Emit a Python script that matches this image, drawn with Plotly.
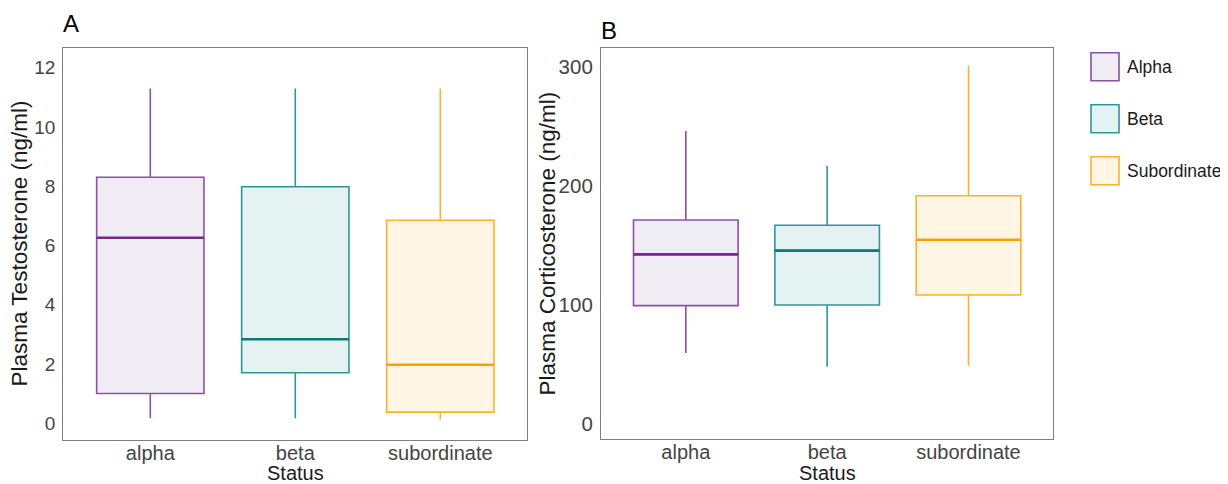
import plotly.graph_objects as go

# ---------------- data ----------------
categories = ["alpha", "beta", "subordinate"]
legend_labels = ["Alpha", "Beta", "Subordinate"]

# Panel A: Plasma Testosterone (ng/ml)
t_low = [0.17, 0.17, 0.13]
t_q1 = [1.01, 1.71, 0.38]
t_med = [6.26, 2.84, 1.98]
t_q3 = [8.30, 7.98, 6.85]
t_high = [11.29, 11.29, 11.29]

# Panel B: Plasma Corticosterone (ng/ml)
c_low = [59.8, 48.4, 49.2]
c_q1 = [99.6, 100.2, 108.6]
c_med = [142.7, 145.8, 155.0]
c_q3 = [171.5, 167.1, 191.9]
c_high = [246.3, 217.1, 301.1]

t_ticks = [0, 2, 4, 6, 8, 10, 12]
c_ticks = [0, 100, 200, 300]

# ---------------- style ----------------
line_colors = ["#8E4FA5", "#2E9699", "#FFB02E"]
median_colors = ["#762A88", "#0B7A7A", "#FFA000"]
fill_colors = ["#F0ECF4", "#E4F3F2", "#FFF6E5"]
FONT = "Liberation Sans, Arial, sans-serif"
BOX_W = 0.74

# page body has an 8px margin; figure is laid out in page pixels
OFF = 8
W, H = 1228 - OFF, 484 - OFF


def px(x):
    return (x - OFF) / W


def py(y):
    return 1 - (y - OFF) / H


fig = go.Figure()

panels = [
    ("x", "y", t_low, t_q1, t_med, t_q3, t_high),
    ("x2", "y2", c_low, c_q1, c_med, c_q3, c_high),
]

for xa, ya, lo, q1, med, q3, hi in panels:
    for i, cat in enumerate(categories):
        fig.add_trace(go.Box(
            x=[i], q1=[q1[i]], median=[med[i]], q3=[q3[i]],
            lowerfence=[lo[i]], upperfence=[hi[i]],
            width=BOX_W, whiskerwidth=0,
            fillcolor=fill_colors[i],
            line=dict(color=line_colors[i], width=1.6),
            boxpoints=False, name=legend_labels[i], showlegend=False,
            xaxis=xa, yaxis=ya, hoverinfo="skip",
        ))
        # thicker, darker median line
        fig.add_trace(go.Scatter(
            x=[i - BOX_W / 2, i + BOX_W / 2], y=[med[i], med[i]],
            mode="lines", line=dict(color=median_colors[i], width=2.6),
            showlegend=False, xaxis=xa, yaxis=ya, hoverinfo="skip",
        ))

ax_common = dict(
    showline=True, linecolor="#7F7F7F", linewidth=1.2, mirror=True,
    showgrid=False, zeroline=False, ticks="", automargin=False,
)
xtick = dict(family=FONT, size=20, color="#444444")

fig.update_layout(
    width=W, height=H,
    margin=dict(l=0, r=0, t=0, b=0),
    paper_bgcolor="white", plot_bgcolor="white",
    showlegend=False,
    xaxis=dict(domain=[px(63.3), px(527.3)], range=[-0.6, 2.6],
               tickvals=[0, 1, 2], ticktext=categories, tickfont=xtick,
               ticklabelstandoff=-5, **ax_common),
    yaxis=dict(domain=[py(440.3), py(47.7)], range=[-0.57, 12.67],
               tickvals=t_ticks, ticklabelstandoff=3,
               tickfont=dict(family=FONT, size=19, color="#444444"), **ax_common),
    xaxis2=dict(domain=[px(601), px(1053.3)], range=[-0.6, 2.6], anchor="y2",
                tickvals=[0, 1, 2], ticktext=categories, tickfont=xtick,
                ticklabelstandoff=-5, **ax_common),
    yaxis2=dict(domain=[py(439.3), py(47.7)], range=[-12.6, 316.2],
                anchor="x2", tickvals=c_ticks, ticklabelstandoff=3,
                tickfont=dict(family=FONT, size=20.5, color="#444444"), **ax_common),
)

title_font = dict(family=FONT, size=22.5, color="#1A1A1A")
# axis titles
fig.add_annotation(text="Plasma Testosterone (ng/ml)", textangle=-90,
                   xref="paper", yref="paper", x=px(19), y=py(243.5),
                   xanchor="center", yanchor="middle", showarrow=False, font=title_font)
fig.add_annotation(text="Plasma Corticosterone (ng/ml)", textangle=-90,
                   xref="paper", yref="paper", x=px(547), y=py(243.5),
                   xanchor="center", yanchor="middle", showarrow=False, font=title_font)
for x0, x1 in [(63.3, 527.3), (601, 1053.3)]:
    fig.add_annotation(text="Status", xref="paper", yref="paper",
                       x=px((x0 + x1) / 2), y=py(473.3),
                       xanchor="center", yanchor="middle", showarrow=False,
                       borderpad=0,
                       font=dict(family=FONT, size=20, color="#1A1A1A"))

# panel letters
fig.add_annotation(text="A", xref="paper", yref="paper", x=px(62), y=py(23),
                   xanchor="left", yanchor="middle", showarrow=False, borderpad=0,
                   font=dict(family=FONT, size=24, color="#000000"))
fig.add_annotation(text="B", xref="paper", yref="paper", x=px(600), y=py(30.5),
                   xanchor="left", yanchor="middle", showarrow=False, borderpad=0,
                   font=dict(family=FONT, size=24, color="#000000"))

# custom legend (large keys like ggplot)
key_x0, key_size, key_y0, key_gap = 1091, 28, 52.7, 52
for i, lab in enumerate(legend_labels):
    top = key_y0 + i * key_gap
    fig.add_shape(type="rect", xref="paper", yref="paper",
                  x0=px(key_x0), x1=px(key_x0 + key_size),
                  y0=py(top + key_size), y1=py(top),
                  fillcolor=fill_colors[i], line=dict(color=line_colors[i], width=1.6))
    fig.add_annotation(text=lab, xref="paper", yref="paper",
                       x=px(key_x0 + key_size + 6), y=py(top + key_size / 2),
                       xanchor="left", yanchor="middle", showarrow=False,
                       font=dict(family=FONT, size=17.5, color="#1A1A1A"))

fig.write_html("out.html")
